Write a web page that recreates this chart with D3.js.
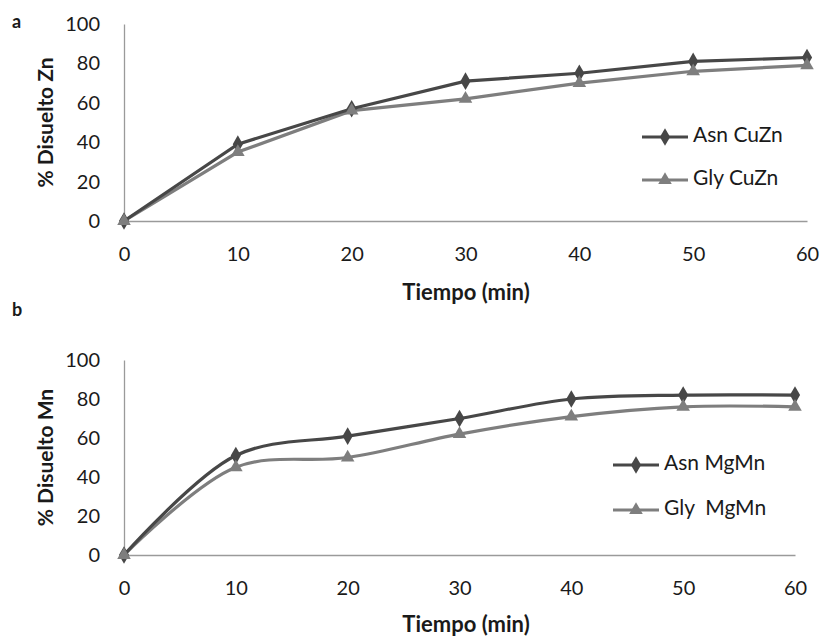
<!DOCTYPE html>
<html>
<head>
<meta charset="utf-8">
<script src="https://cdn.jsdelivr.net/npm/d3@7"></script>
<style>
  html, body { margin: 0; padding: 0; background: #fff; }
  svg { display: block; }
  text { font-family: Lato, "Open Sans", sans-serif; fill: #1a1a1a; }
</style>
</head>
<body>
<svg id="chart" width="824" height="639"></svg>
<script>
// Dissolution time points (min)
const tiempo = [0, 10, 20, 30, 40, 50, 60];
const xTicks = [0, 10, 20, 30, 40, 50, 60];
const yTicks = [0, 20, 40, 60, 80, 100];

// Panel a: % Zn dissolved
const asnCuZn = [0, 39, 57, 71, 75, 81, 83];
const glyCuZn = [0, 35, 56, 62, 70, 76, 79];

// Panel b: % Mn dissolved
const asnMgMn = [0, 51, 61, 70, 80, 82, 82];
const glyMgMn = [0, 45, 50, 62, 71, 76, 76];

const panels = [
  {
    letter: "a", yTitle: "% Disuelto Zn",
    series: [
      { name: "Asn CuZn", values: asnCuZn, color: "#474747", marker: d3.symbolDiamond },
      { name: "Gly CuZn", values: glyCuZn, color: "#7e7e7e", marker: d3.symbolTriangle }
    ],
    curve: d3.curveLinear,
    box: { left: 124, right: 807, top: 24, bottom: 221 },
    letterPos: [12, 28],
    tickY: 256, titleY: 300,
    legend: { x: 642, y: 137, gap: 43 }
  },
  {
    letter: "b", yTitle: "% Disuelto Mn",
    series: [
      { name: "Asn MgMn", values: asnMgMn, color: "#474747", marker: d3.symbolDiamond },
      { name: "Gly  MgMn", values: glyMgMn, color: "#7e7e7e", marker: d3.symbolTriangle }
    ],
    curve: d3.curveCatmullRom.alpha(0.5),
    box: { left: 124, right: 795, top: 360, bottom: 555 },
    letterPos: [12, 316],
    tickY: 590, titleY: 632,
    legend: { x: 613, y: 465, gap: 45 }
  }
];

const svg = d3.select("#chart");

panels.forEach(p => {
  const g = svg.append("g");
  const x = d3.scaleLinear().domain([0, 60]).range([p.box.left, p.box.right]);
  const y = d3.scaleLinear().domain([0, 100]).range([p.box.bottom, p.box.top]);

  // Panel letter
  g.append("text")
    .attr("x", p.letterPos[0]).attr("y", p.letterPos[1])
    .attr("font-size", 18).attr("font-weight", "bold")
    .text(p.letter);

  // Y axis
  const yAxis = g.append("g")
    .attr("transform", `translate(${p.box.left},0)`)
    .call(d3.axisLeft(y).tickValues(yTicks).tickSize(0).tickSizeOuter(0).tickPadding(24));
  yAxis.select(".domain").attr("stroke", "#9a9a9a").attr("stroke-width", 1.3);
  yAxis.selectAll("text").attr("font-size", 20).attr("fill", "#1a1a1a")
    .attr("font-family", "Lato, 'Open Sans', sans-serif");

  // X axis
  const xAxis = g.append("g")
    .attr("transform", `translate(0,${p.box.bottom})`)
    .call(d3.axisBottom(x).tickValues(xTicks).tickSize(0).tickSizeOuter(0).tickPadding(0));
  xAxis.select(".domain").attr("stroke", "#9a9a9a").attr("stroke-width", 1.3);
  xAxis.selectAll("text").attr("font-size", 20).attr("fill", "#1a1a1a")
    .attr("font-family", "Lato, 'Open Sans', sans-serif")
    .attr("dy", null).attr("y", p.tickY - p.box.bottom)
    .attr("dominant-baseline", "middle");

  // Axis titles
  g.append("text")
    .attr("x", 466)
    .attr("y", p.titleY)
    .attr("text-anchor", "middle")
    .attr("font-size", 22).attr("font-weight", "bold")
    .text("Tiempo (min)");

  g.append("text")
    .attr("transform", `translate(53,${(p.box.top + p.box.bottom) / 2}) rotate(-90)`)
    .attr("text-anchor", "middle")
    .attr("font-size", 21).attr("font-weight", "bold")
    .text(p.yTitle);

  // Series lines and markers
  const line = d3.line()
    .x((d, i) => x(tiempo[i]))
    .y(d => y(d))
    .curve(p.curve);

  p.series.slice().reverse().forEach(s => {
    g.append("path")
      .datum(s.values)
      .attr("fill", "none")
      .attr("stroke", s.color)
      .attr("stroke-width", 3.2)
      .attr("d", line);
  });
  p.series.forEach(s => {
    g.selectAll(null)
      .data(s.values)
      .join("path")
      .attr("transform", (d, i) => `translate(${x(tiempo[i])},${y(d)})`)
      .attr("d", d3.symbol().type(s.marker).size(s.marker === d3.symbolTriangle ? 80 : 90))
      .attr("fill", s.color);
  });

  // Legend
  p.series.forEach((s, i) => {
    const ly = p.legend.y + i * p.legend.gap;
    const lg = g.append("g").attr("transform", `translate(${p.legend.x},${ly})`);
    lg.append("line").attr("x1", 0).attr("x2", 46).attr("y1", 0).attr("y2", 0)
      .attr("stroke", s.color).attr("stroke-width", 3.2);
    lg.append("path").attr("transform", "translate(23,0)")
      .attr("d", d3.symbol().type(s.marker).size(s.marker === d3.symbolTriangle ? 80 : 90))
      .attr("fill", s.color);
    lg.append("text").attr("x", 51).attr("y", 0)
      .attr("dominant-baseline", "middle")
      .attr("font-size", 21)
      .style("white-space", "pre")
      .attr("xml:space", "preserve")
      .text(s.name);
  });
});
</script>
</body>
</html>
